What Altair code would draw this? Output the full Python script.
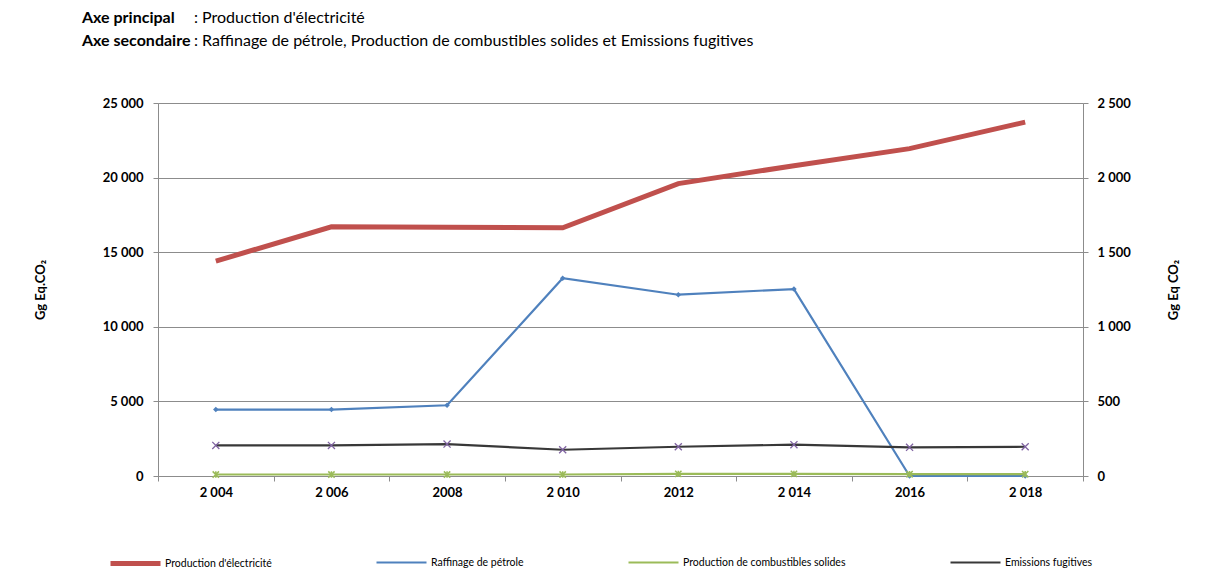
import json
import altair as alt
import pandas as pd

# ---- data ----
years = [2004, 2006, 2008, 2010, 2012, 2014, 2016, 2018]
year_labels = ["2 004", "2 006", "2008", "2 010", "2012", "2 014", "2016", "2 018"]
electricite = [14400, 16700, 16680, 16640, 19600, 20800, 21940, 23720]
raffinage = [445, 445, 474, 1326, 1215, 1253, 0, 0]
combustibles = [10, 10, 10, 10, 14, 14, 12, 12]
fugitives = [205, 205, 214, 176, 196, 210, 192, 196]

series_names = [
    "Production d'électricité",
    "Raffinage de pétrole",
    "Production de combustibles solides",
    "Emissions fugitives",
]
colors = ["#C0504D", "#4F81BD", "#9BBB59", "#383838"]
widths = [5, 2.2, 2.2, 2.2]
left_ticks = [0, 5000, 10000, 15000, 20000, 25000]
right_ticks = [0, 500, 1000, 1500, 2000, 2500]
x_ticks = [2003, 2005, 2007, 2009, 2011, 2013, 2015, 2017, 2019]

W, H = 925, 373
FONT = "Lato"
GRID = "#8c8c8c"
LBL = 13

prim = pd.DataFrame({"annee": years, "valeur": electricite, "serie": series_names[0]})
sec_rows = []
for name, vals in zip(series_names[1:], [raffinage, combustibles, fugitives]):
    for y, v in zip(years, vals):
        sec_rows.append({"annee": y, "valeur": v, "serie": name})
sec = pd.DataFrame(sec_rows)

label_expr = f"datum.value >= 2019 ? '' : {json.dumps(year_labels, ensure_ascii=False)}[(datum.value - 2003) / 2]"

x_enc = alt.X(
    "annee:Q",
    scale=alt.Scale(domain=[2003, 2019], nice=False, zero=False),
    axis=alt.Axis(
        values=x_ticks, labelExpr=label_expr, labelOffset=W / 16, tickSize=5,
        labelFlush=False, labelOverlap=False, grid=False, domainColor=GRID,
        tickColor=GRID, labelFontWeight="bold", labelFontSize=LBL, labelPadding=5,
        labelColor="#000", title=None, labelFont=FONT,
    ),
)

legend = alt.Legend(
    title=None, orient="none", legendX=-50, legendY=433, direction="horizontal",
    columns=4, gridAlign="none", columnPadding=100, symbolType="stroke",
    symbolSize=2500, labelOffset=2, labelFontSize=10.5,
    labelFont=FONT, labelColor="#000", labelLimit=400,
)
color_enc = alt.Color("serie:N", scale=alt.Scale(domain=series_names, range=colors), legend=legend)
sw_enc = alt.StrokeWidth(
    "serie:N", scale=alt.Scale(type="ordinal", domain=series_names, range=widths), legend=legend
)

fmt = "replace(format(datum.value, ','), ',', ' ')"

left = alt.Chart(prim).mark_line().encode(
    x=x_enc,
    y=alt.Y(
        "valeur:Q",
        scale=alt.Scale(domain=[0, 25000], nice=False),
        axis=alt.Axis(
            values=left_ticks, labelExpr=fmt, grid=True, gridColor=GRID,
            domainColor=GRID, tickColor=GRID, tickSize=5, labelFontWeight="bold",
            labelFontSize=LBL, labelFont=FONT, labelColor="#000", labelPadding=10,
            title="Gg Eq.CO₂", titleX=-118, titleY=H / 2, titleAngle=270,
            titleAlign="center", titleBaseline="middle", titleFontSize=13,
            titleFont=FONT, titleFontWeight="bold", titleColor="#000",
        ),
    ),
    color=color_enc,
    strokeWidth=sw_enc,
)

y_right = alt.Y(
    "valeur:Q",
    scale=alt.Scale(domain=[0, 2500], nice=False),
    axis=alt.Axis(
        orient="right", values=right_ticks, labelExpr=fmt, grid=False,
        domainColor=GRID, tickColor=GRID, tickSize=5, labelFontWeight="bold",
        labelFontSize=LBL, labelFont=FONT, labelColor="#000", labelPadding=9,
        title="Gg Eq CO₂", titleX=90, titleY=H / 2, titleAngle=270,
        titleAlign="center", titleBaseline="middle", titleFontSize=13,
        titleFont=FONT, titleFontWeight="bold", titleColor="#000",
    ),
)

right_lines = alt.Chart(sec).mark_line().encode(
    x=x_enc, y=y_right, color=color_enc, strokeWidth=sw_enc
)

pts_blue = alt.Chart(sec).transform_filter(
    alt.datum.serie == series_names[1]
).mark_point(shape="diamond", filled=True, size=30, color=colors[1], opacity=1).encode(
    x=x_enc, y=y_right
)
pts_green = alt.Chart(sec).transform_filter(
    alt.datum.serie == series_names[2]
).mark_point(shape="M-1,-1L1,1M-1,1L1,-1M0,-1L0,1", filled=False, size=40,
             color="#9BBB59", strokeWidth=1.5, opacity=1).encode(
    x=x_enc, y=y_right
)
pts_dark = alt.Chart(sec).transform_filter(
    alt.datum.serie == series_names[3]
).mark_point(shape="M-1,-1L1,1M-1,1L1,-1", filled=False, size=50,
             color="#8064A2", strokeWidth=1.3, opacity=1).encode(
    x=x_enc, y=y_right
)

right = alt.layer(right_lines, pts_blue, pts_green, pts_dark)

HFS = 16

def txt(s, xpos, ypos, bold):
    return alt.Chart(pd.DataFrame({"t": [s]})).mark_text(
        align="left", baseline="middle", fontSize=HFS, font=FONT,
        fontWeight="bold" if bold else "normal", color="#000",
    ).encode(x=alt.value(xpos), y=alt.value(ypos), text="t:N")

headers = alt.layer(
    txt("Axe principal", -76, -85, True),
    txt(": Production d'électricité", 36, -85, False),
    txt("Axe secondaire", -76, -62, True),
    txt(": Raffinage de pétrole, Production de combustibles solides et Emissions fugitives", 36, -62, False),
)

chart = alt.layer(left, right, headers).resolve_scale(y="independent").properties(
    width=W, height=H,
    autosize=alt.AutoSizeParams(type="none"),
    padding={"left": 150, "top": 95, "right": 118, "bottom": 92},
).configure_view(stroke=None).configure(font=FONT)

chart.save("out.html", embed_options={"renderer": "svg", "actions": False})
